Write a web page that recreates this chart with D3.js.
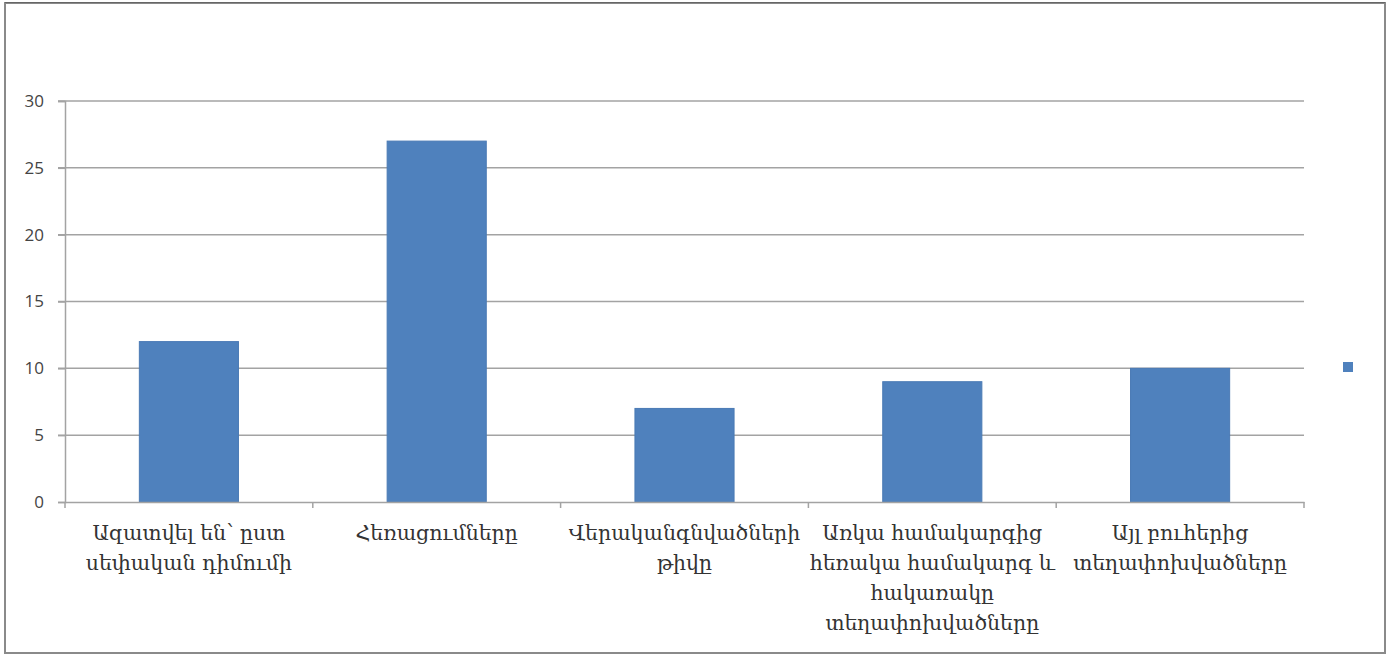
<!DOCTYPE html>
<html>
<head>
<meta charset="utf-8">
<script src="https://cdn.jsdelivr.net/npm/d3@7"></script>
<style>
  html, body { margin: 0; padding: 0; background: #fff; }
  svg { display: block; }
</style>
</head>
<body>
<svg id="chart" width="1389" height="655"></svg>
<script>
// ---- data ----
const categories = [
  ["Ազատվել են՝ ըստ", "սեփական դիմումի"],
  ["Հեռացումները"],
  ["Վերականգնվածների", "թիվը"],
  ["Առկա համակարգից", "հեռակա համակարգ և", "հակառակը", "տեղափոխվածները"],
  ["Այլ բուհերից", "տեղափոխվածները"]
];
const values = [12, 27, 7, 9, 10];
const yTicks = [0, 5, 10, 15, 20, 25, 30];

// ---- layout ----
const svg = d3.select("#chart");
const plot = { left: 65, right: 1304, top: 101, bottom: 502 };

// frame
svg.append("rect")
  .attr("x", 5).attr("y", 3).attr("width", 1380).attr("height", 650)
  .attr("fill", "#fff").attr("stroke", "#8a8a8a").attr("stroke-width", 2);
svg.append("line").attr("x1", 5).attr("x2", 1385).attr("y1", 2.5).attr("y2", 2.5)
  .attr("stroke", "#666").attr("stroke-width", 1);

const x = d3.scaleBand()
  .domain(d3.range(categories.length))
  .range([plot.left, plot.right])
  .paddingInner(0).paddingOuter(0);
const y = d3.scaleLinear().domain([0, 30]).range([plot.bottom, plot.top]);

// gridlines
svg.append("g").selectAll("line")
  .data(yTicks.filter(d => d > 0))
  .join("line")
  .attr("x1", plot.left - 7).attr("x2", plot.right)
  .attr("y1", d => y(d)).attr("y2", d => y(d))
  .attr("stroke", "#a3a3a3").attr("stroke-width", 1.5);

// y axis
const yAxis = d3.axisLeft(y).tickValues(yTicks).tickSize(7).tickPadding(14);
const gy = svg.append("g").attr("transform", `translate(${plot.left},0)`).call(yAxis);
gy.select(".domain").attr("stroke", "#a3a3a3").attr("stroke-width", 1.5);
gy.selectAll(".tick line").attr("stroke", "#a3a3a3").attr("stroke-width", 1.5);
gy.selectAll(".tick text")
  .attr("font-family", "'Open Sans', 'Liberation Sans', sans-serif")
  .attr("font-size", 17).attr("fill", "#444");

// bars
const barW = x.bandwidth() * 0.4;
svg.append("g").selectAll("rect")
  .data(values)
  .join("rect")
  .attr("x", (d, i) => x(i) + (x.bandwidth() - barW) / 2)
  .attr("y", d => y(d))
  .attr("width", barW)
  .attr("height", d => y(0) - y(d))
  .attr("fill", "#4f81bd")
  .attr("stroke", "#4a7ab5").attr("stroke-width", 1);

// x axis
const xAxis = d3.axisBottom(x).tickSize(0).tickFormat("");
const gx = svg.append("g").attr("transform", `translate(0,${plot.bottom})`).call(xAxis);
gx.select(".domain").attr("stroke", "#a3a3a3").attr("stroke-width", 1.5);
// category boundary ticks
const bounds = d3.range(categories.length + 1).map(i => plot.left + i * x.step());
svg.append("g").selectAll("line")
  .data(bounds)
  .join("line")
  .attr("x1", d => d).attr("x2", d => d)
  .attr("y1", plot.bottom).attr("y2", plot.bottom + 6)
  .attr("stroke", "#a3a3a3").attr("stroke-width", 1.5);

// category labels
const lab = svg.append("g");
categories.forEach((lines, i) => {
  const t = lab.append("text")
    .attr("x", x(i) + x.bandwidth() / 2)
    .attr("y", 540)
    .attr("text-anchor", "middle")
    .attr("font-family", "'DejaVu Serif', serif")
    .attr("font-size", 20.5)
    .attr("fill", "#333");
  lines.forEach((ln, k) => {
    t.append("tspan")
      .attr("x", x(i) + x.bandwidth() / 2)
      .attr("dy", k === 0 ? 0 : 30)
      .text(ln);
  });
});

// legend marker (series without name)
svg.append("rect")
  .attr("x", 1343).attr("y", 362).attr("width", 10).attr("height", 10)
  .attr("fill", "#4f81bd");
</script>
</body>
</html>
